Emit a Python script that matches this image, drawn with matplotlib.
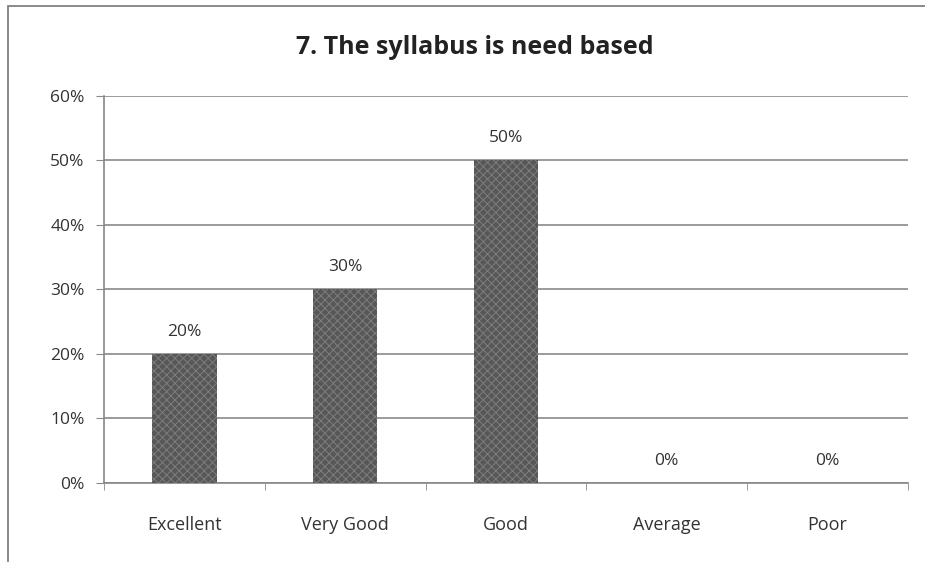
import matplotlib
matplotlib.use("Agg")
import matplotlib.pyplot as plt
from matplotlib.patches import Rectangle
from matplotlib.ticker import FuncFormatter, MultipleLocator

categories = ["Excellent", "Very Good", "Good", "Average", "Poor"]
values = [20, 30, 50, 0, 0]
title = "7. The syllabus is need based"

plt.rcParams['font.family'] = ['Open Sans', 'DejaVu Sans']
plt.rcParams['hatch.linewidth'] = 0.7

fig = plt.figure(figsize=(9.25, 5.62), dpi=100)
ax = fig.add_axes([0.1124, 0.1406, 0.8692, 0.6886])

x = range(len(categories))
bars = ax.bar(x, values, width=0.4, color='#575757', edgecolor='#7d7d7d',
              hatch='xxxx', linewidth=0, zorder=3)
for xi, v in zip(x, values):
    ax.text(xi, v + 2.2, f"{v}%", ha='center', va='bottom', fontsize=12.5, color='#333333')

ax.set_xlim(-0.5, len(categories) - 0.5)
ax.set_ylim(0, 60)
ax.yaxis.set_major_locator(MultipleLocator(10))
ax.yaxis.set_major_formatter(FuncFormatter(lambda v, p: f"{int(v)}%"))
ax.set_xticks(list(x))
ax.set_xticklabels(categories)
ax.set_xticks([i + 0.5 for i in range(-1, len(categories))], minor=True)
ax.tick_params(axis='x', which='major', length=0, pad=24, labelsize=13, labelcolor='#333333')
ax.tick_params(axis='x', which='minor', length=5, color='#888888', direction='out')
ax.tick_params(axis='y', length=6, color='#888888', pad=8, labelsize=12.5, labelcolor='#333333')

ax.grid(axis='y', color='#8a8a8a', linewidth=1.2, zorder=0)
for s in ['top', 'right']:
    ax.spines[s].set_visible(False)
ax.spines['left'].set_color('#888888')
ax.spines['bottom'].set_color('#888888')
ax.spines['left'].set_linewidth(1.2)
ax.spines['bottom'].set_linewidth(1.2)

fig.text(0.513, 0.916, title, ha='center', va='center', fontsize=18, fontweight='bold', color='#222222')

fig.patches.append(Rectangle((0.009, -0.01), 1.0, 1.0, transform=fig.transFigure,
                             fill=False, edgecolor='#777777', linewidth=1.2))

fig.savefig("out.png", dpi=100)
